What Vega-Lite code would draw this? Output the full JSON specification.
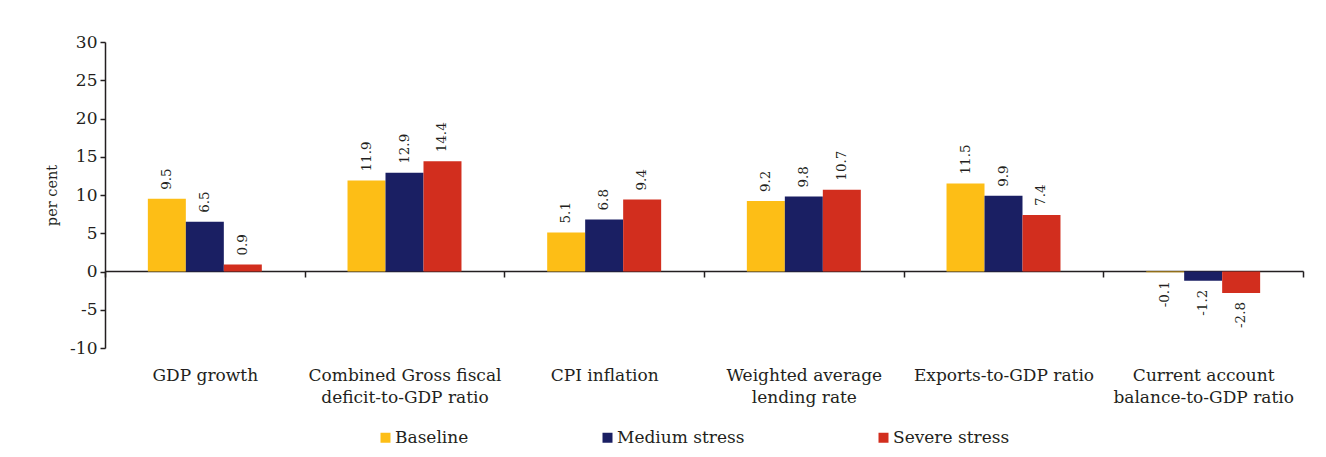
{
  "$schema": "https://vega.github.io/schema/vega-lite/v6.json",
  "width": 1198,
  "height": 306,
  "autosize": {"type": "none"},
  "padding": {"left": 105, "top": 42, "right": 23, "bottom": 109},
  "background": "white",
  "config": {
    "font": "DejaVu Serif",
    "view": {"stroke": null},
    "axis": {"labelFont": "DejaVu Serif", "titleFont": "DejaVu Serif", "labelColor": "#231F20", "titleColor": "#231F20", "domainColor": "#231F20", "tickColor": "#231F20", "grid": false}
  },
  "data": {
    "values": [
      {"category": "GDP growth", "scenario": "Baseline", "value": 9.5},
      {"category": "GDP growth", "scenario": "Medium stress", "value": 6.5},
      {"category": "GDP growth", "scenario": "Severe stress", "value": 0.9},
      {"category": "Combined Gross fiscal|deficit-to-GDP ratio", "scenario": "Baseline", "value": 11.9},
      {"category": "Combined Gross fiscal|deficit-to-GDP ratio", "scenario": "Medium stress", "value": 12.9},
      {"category": "Combined Gross fiscal|deficit-to-GDP ratio", "scenario": "Severe stress", "value": 14.4},
      {"category": "CPI inflation", "scenario": "Baseline", "value": 5.1},
      {"category": "CPI inflation", "scenario": "Medium stress", "value": 6.8},
      {"category": "CPI inflation", "scenario": "Severe stress", "value": 9.4},
      {"category": "Weighted average|lending rate", "scenario": "Baseline", "value": 9.2},
      {"category": "Weighted average|lending rate", "scenario": "Medium stress", "value": 9.8},
      {"category": "Weighted average|lending rate", "scenario": "Severe stress", "value": 10.7},
      {"category": "Exports-to-GDP ratio", "scenario": "Baseline", "value": 11.5},
      {"category": "Exports-to-GDP ratio", "scenario": "Medium stress", "value": 9.9},
      {"category": "Exports-to-GDP ratio", "scenario": "Severe stress", "value": 7.4},
      {"category": "Current account|balance-to-GDP ratio", "scenario": "Baseline", "value": -0.1},
      {"category": "Current account|balance-to-GDP ratio", "scenario": "Medium stress", "value": -1.2},
      {"category": "Current account|balance-to-GDP ratio", "scenario": "Severe stress", "value": -2.8}
    ]
  },
  "encoding": {
    "x": {
      "field": "category",
      "type": "nominal",
      "sort": null,
      "scale": {"paddingInner": 0, "paddingOuter": 0},
      "axis": {
        "title": null,
        "labelAngle": 0,
        "labelFontSize": 17,
        "labelLineHeight": 22,
        "labelLimit": 0,
        "labelExpr": "split(datum.label, '|')",
        "labelBaseline": "top",
        "offset": -77,
        "tickBand": "extent",
        "tickSize": 6,
        "labelPadding": 90,
        "domainWidth": 1.5,
        "tickWidth": 1.5
      }
    },
    "xOffset": {"field": "scenario", "type": "nominal", "scale": {"domain": ["pad-left", "Baseline", "Medium stress", "Severe stress", "pad-right"], "paddingInner": 0, "paddingOuter": 0.128}},
    "y": {
      "field": "value",
      "type": "quantitative",
      "scale": {"domain": [-10, 30], "nice": false},
      "axis": {
        "title": "per cent",
        "titleFontSize": 14.5,
        "titleFontWeight": "normal",
        "titlePadding": 10,
        "values": [-10, -5, 0, 5, 10, 15, 20, 25, 30],
        "labelExpr": "replace(datum.label, '−', '-')",
        "labelFontSize": 17,
        "labelPadding": 3,
        "tickSize": 5,
        "domainWidth": 1.5,
        "tickWidth": 1.5
      }
    }
  },
  "layer": [
    {
      "mark": {"type": "bar"},
      "encoding": {
        "color": {
          "field": "scenario",
          "type": "nominal",
          "scale": {"domain": ["Baseline", "Medium stress", "Severe stress"], "range": ["#FDBE16", "#1A1F63", "#D22E1E"]},
          "legend": {
            "title": null,
            "orient": "none",
            "legendX": 272,
            "legendY": 387,
            "direction": "horizontal",
            "columns": 3,
            "columnPadding": 130,
            "symbolType": "square",
            "symbolSize": 100,
            "symbolStrokeWidth": 0,
            "labelFont": "DejaVu Serif",
            "labelFontSize": 17,
            "labelColor": "#231F20",
            "labelOffset": 1
          }
        }
      }
    },
    {
      "transform": [{"filter": "datum.value >= 0"}],
      "mark": {"type": "text", "angle": 270, "align": "left", "baseline": "middle", "dx": 9, "fontSize": 13.5, "color": "#231F20"},
      "encoding": {"text": {"field": "value", "type": "nominal"}}
    },
    {
      "transform": [{"filter": "datum.value < 0"}],
      "mark": {"type": "text", "angle": 270, "align": "right", "baseline": "middle", "dx": -9, "fontSize": 13.5, "color": "#231F20"},
      "encoding": {"text": {"field": "value", "type": "nominal"}}
    }
  ]
}
